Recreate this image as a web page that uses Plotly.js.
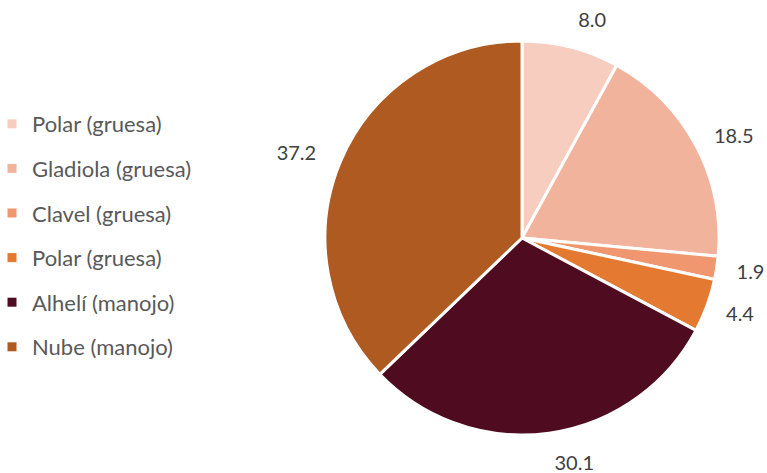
<!DOCTYPE html>
<html><head><meta charset="utf-8">
<script src="https://cdn.plot.ly/plotly-3.0.1.min.js"></script>
<style>html,body{margin:0;padding:0;background:#fff;overflow:hidden}#c{width:775px;height:473px;margin-left:-8px}</style>
</head><body><div id="c"></div>
<script>
const categories = ["Polar (gruesa)", "Gladiola (gruesa)", "Clavel (gruesa)", "Polar (gruesa) ", "Alhelí (manojo)", "Nube (manojo)"];
const values = [8.0, 18.5, 1.9, 4.4, 30.1, 37.2];
const colors = ["#F6CDBF", "#F2B39C", "#F0976F", "#E47A32", "#4F0C20", "#AE5A21"];

const S = 8;                 // left shift of the drawing area (px)
const W = 767 + S, H = 473;
const cx = 522 + S, cy = 238, R = 197;
const lcx = cx - 3, RL = 214;
function dom(x0, r) {
  return {x: [(x0 - r) / W, (x0 + r) / W], y: [(H - cy - r) / H, (H - cy + r) / H]};
}
const FONT = "Lato, 'Open Sans', sans-serif";

const traces = [{
  type: "pie",
  labels: categories,
  values: values,
  sort: false,
  direction: "clockwise",
  rotation: 0,
  marker: {colors: colors, line: {color: "#ffffff", width: 3}},
  textinfo: "none",
  hoverinfo: "none",
  showlegend: false,
  domain: dom(cx, R)
}, {
  type: "pie",
  labels: categories,
  values: values,
  sort: false,
  direction: "clockwise",
  rotation: 0,
  marker: {colors: values.map(() => "rgba(0,0,0,0)"), line: {width: 0}},
  texttemplate: "%{value:.1f}",
  textposition: "outside",
  outsidetextfont: {size: 20, color: "#404040", family: FONT},
  hoverinfo: "none",
  showlegend: false,
  domain: dom(lcx, RL)
}];
categories.forEach((c, i) => {
  traces.push({
    type: "scatter", mode: "markers", x: [null], y: [null],
    name: c, legendgroup: "g" + i,
    marker: {symbol: "square", size: 9, color: colors[i]},
    showlegend: true
  });
});

const layout = {
  width: W, height: H,
  margin: {l: 0, r: 0, t: 0, b: 0},
  paper_bgcolor: "#fff", plot_bgcolor: "#fff",
  xaxis: {visible: false, domain: [0, 0.01]},
  yaxis: {visible: false, domain: [0, 0.01]},
  showlegend: true,
  legend: {x: 0, y: (H - 103) / H, xanchor: "left", yanchor: "top", tracegroupgap: 13,
           font: {size: 22, color: "#595959", family: FONT},
           itemwidth: 30, bgcolor: "rgba(0,0,0,0)"},
  font: {family: FONT}
};
Plotly.newPlot("c", traces, layout, {displayModeBar: false, staticPlot: true});
</script></body></html>
